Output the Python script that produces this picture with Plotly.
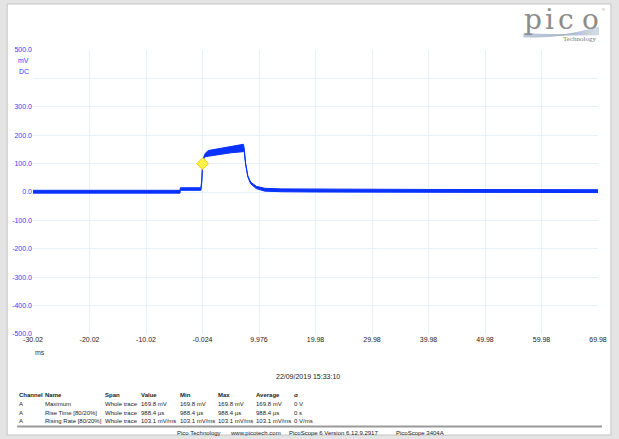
import plotly.graph_objects as go

# ---------------- data ----------------
time_ms = [-30.02, -4.0, -3.95, -0.3, -0.15, 0.0, 0.2, 0.45, 1.0, 3.0, 5.0, 7.2,
           7.35, 7.6, 8.0, 8.5, 9.5, 11.0, 14.0, 20.0, 40.0, 69.98]
upper_mv = [6, 6, 15, 15, 42, 101, 123, 136, 146, 153, 160, 168,
            156, 102, 57, 35, 20, 13, 11, 10, 9, 8]
lower_mv = [-4, -4, 6, 6, 38, 99, 117, 124, 126, 133, 138, 142,
            144, 98, 53, 29, 12, 3, 1, 0, -1, -2]

marker_t = [0.0]
marker_v = [100.0]

x_tick_vals = [-30.024, -20.024, -10.024, -0.024, 9.976, 19.976, 29.976, 39.976, 49.976, 59.976, 69.976]
x_tick_text = ["-30.02", "-20.02", "-10.02", "-0.024", "9.976", "19.98", "29.98", "39.98", "49.98", "59.98", "69.98"]
y_tick_vals = [-500, -400, -300, -200, -100, 0, 100, 200, 300, 400, 500]
y_tick_text = ["-500.0", "-400.0", "-300.0", "-200.0", "-100.0", "0.0", "100.0", "200.0", "300.0", "", "500.0"]

table_header = ["Channel", "Name", "Span", "Value", "Min", "Max", "Average", "σ"]
table_rows = [
    ["A", "Maximum", "Whole trace", "169.8 mV", "169.8 mV", "169.8 mV", "169.8 mV", "0 V"],
    ["A", "Rise Time [80/20%]", "Whole trace", "988.4 µs", "988.4 µs", "988.4 µs", "988.4 µs", "0 s"],
    ["A", "Rising Rate [80/20%]", "Whole trace", "103.1 mV/ms", "103.1 mV/ms", "103.1 mV/ms", "103.1 mV/ms", "0 V/ms"],
]
footer_items = ["Pico Technology", "www.picotech.com", "PicoScope 6 Version 6.12.9.2917", "PicoScope 3404A"]
timestamp = "22/09/2019 15:33:10"

# ---------------- layout helpers ----------------
W, H = 619, 439
L, R, T, B = 32, 18, 50, 105
PW, PH = W - L - R, H - T - B


def fx(px):
    return (px - L) / PW


def fy(py):
    return (H - B - py) / PH


BLUE = "#0a32ff"
FONT = "Liberation Sans"

fig = go.Figure()

fig.add_trace(go.Scatter(x=time_ms, y=upper_mv, mode="lines",
                         line=dict(color=BLUE, width=1), hoverinfo="skip", showlegend=False))
fig.add_trace(go.Scatter(x=time_ms, y=lower_mv, mode="lines", fill="tonexty",
                         fillcolor=BLUE, line=dict(color=BLUE, width=1),
                         hoverinfo="skip", showlegend=False))
fig.add_trace(go.Scatter(x=marker_t, y=marker_v, mode="markers",
                         marker=dict(symbol="diamond", size=9, color="#fff04a",
                                     line=dict(color="#e8d800", width=1)),
                         hoverinfo="skip", showlegend=False))

annotations = []


def text(px, py, s, size=7, color="#222222", anchor="left", bold=False, family=FONT):
    if bold:
        s = "<b>" + s + "</b>"
    annotations.append(dict(x=fx(px), y=fy(py), xref="paper", yref="paper", text=s,
                            showarrow=False, xanchor=anchor, yanchor="middle",
                            font=dict(size=size, color=color, family=family)))


# unit labels on y axis
text(30, 61, "mV", color="#3a3aff", anchor="right")
text(30, 71, "DC", color="#3a3aff", anchor="right")
text(32, 352, "ms", color="#333333", anchor="left")

text(309, 376, timestamp, size=7, anchor="center")

cols_x = [16, 42, 102, 139, 178, 216, 255, 293]
rows_y = [395, 404, 412.5, 421]
for cx, h in zip(cols_x, table_header):
    text(cx, rows_y[0], h, size=6, bold=True)
for ry, row in zip(rows_y[1:], table_rows):
    for cx, v in zip(cols_x, row):
        text(cx, ry, v, size=6)

footer_x = [175, 228, 288, 396]
for fxp, s in zip(footer_x, footer_items):
    text(fxp, 432.5, s, size=6)

# logo
for ch, cx in zip("pico", [536, 552.5, 568.5, 593]):
    text(cx, 19, ch, size=28, color="#8c8c8c", anchor="center", family="DejaVu Serif")
text(601, 39, "Technology", size=7, color="#7a7a7a", anchor="right", family="Liberation Serif")
text(607, 9, "®", size=4, color="#8a8a8a", anchor="center")

shapes = [
    dict(type="rect", xref="paper", yref="paper", x0=fx(6), x1=fx(614), y0=fy(435), y1=fy(4),
         fillcolor="white", line=dict(color="#c4c4c4", width=1), layer="below"),
    dict(type="line", xref="paper", yref="paper", x0=fx(16), x1=fx(605), y0=fy(426.5), y1=fy(426.5),
         line=dict(color="#9a9a9a", width=2)),
]

# logo ribbon lines
for k in range(8):
    y0 = 37 - k * 0.5
    y1 = 27 + k * 1.1
    path = "M {:.4f},{:.4f} C {:.4f},{:.4f} {:.4f},{:.4f} {:.4f},{:.4f}".format(
        fx(526), fy(y0), fx(552), fy(y0 + 1), fx(572), fy(y1 + 8 - k), fx(602), fy(y1))
    shapes.append(dict(type="path", xref="paper", yref="paper", path=path,
                       line=dict(color="#a9b8cc", width=0.6)))

fig.update_layout(
    width=W, height=H,
    margin=dict(l=L, r=R, t=T, b=B, pad=0),
    paper_bgcolor="#e4e4e4",
    plot_bgcolor="rgba(0,0,0,0)",
    font=dict(family=FONT, size=7, color="#222222"),
    showlegend=False,
    annotations=annotations,
    shapes=shapes,
    xaxis=dict(range=[-30.024, 69.976], tickmode="array", tickvals=x_tick_vals, ticktext=x_tick_text,
               showgrid=True, gridcolor="#e9f1f8", gridwidth=1, zeroline=False, showline=False,
               ticks="", tickfont=dict(size=7, color="#222222"), fixedrange=True),
    yaxis=dict(range=[-500, 500], tickmode="array", tickvals=y_tick_vals, ticktext=y_tick_text,
               showgrid=True, gridcolor="#e9f1f8", gridwidth=1, zeroline=False, showline=False,
               ticks="", tickfont=dict(size=7, color="#3a3aff"), fixedrange=True),
)

fig.write_html("out.html", config={"displayModeBar": False},
               post_script="document.body.style.margin='0';")
